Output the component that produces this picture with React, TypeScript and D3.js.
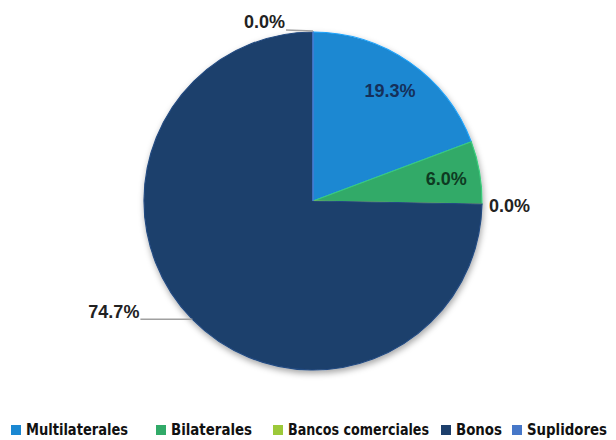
import React from "react";
import * as d3 from "d3";

const categories = ["Multilaterales", "Bilaterales", "Bancos comerciales", "Bonos", "Suplidores"];
const values = [19.3, 6.0, 0.0, 74.7, 0.0];
const labels = ["19.3%", "6.0%", "0.0%", "74.7%", "0.0%"];
const colors = ["#1a88d2", "#31aa68", "#9cc93a", "#1d3f6c", "#4677c8"];
const labelColors = ["#15305a", "#0e3a22", "#222222", "#222222", "#222222"];

const W = 616;
const H = 440;
const cx = 313;
const cy = 201;
const R = 169;

export default function App() {
  const pie = d3.pie<number>().sort(null).value((d) => d);
  const arcs = pie(values);
  const arcGen = d3.arc<d3.PieArcDatum<number>>().innerRadius(0).outerRadius(R);

  const pt = (angle: number, r: number) => [Math.sin(angle) * r, -Math.cos(angle) * r];

  // legend layout
  const legendSquareX = [11, 156, 273, 441, 512];
  const legendTextLen = [102, 81, 141, 46, 80];

  return (
    <svg width={W} height={H} style={{ position: "absolute", left: 0, top: 0, fontFamily: "'Liberation Sans', Arial, sans-serif" }}>
      <defs>
        <filter id="shadow" x="-20%" y="-20%" width="140%" height="140%">
          <feDropShadow dx="1" dy="3" stdDeviation="3" floodColor="#000" floodOpacity="0.35" />
        </filter>
      </defs>
      <rect width={W} height={H} fill="#ffffff" />
      <g transform={`translate(${cx},${cy})`}>
        <g filter="url(#shadow)">
          {arcs.map((a, i) => (
            <path key={i} d={arcGen(a) || ""} fill={colors[i]} stroke={d3.color(colors[i])!.brighter(0.5).toString()} strokeWidth={1.2} />
          ))}
        </g>
        {arcs.map((a, i) => {
          const mid = (a.startAngle + a.endAngle) / 2;
          if (values[i] >= 5) {
            if (i === 3) {
              const [x0, y0] = pt(mid, R);
              const xEnd = x0 - 52;
              return (
                <g key={i}>
                  <line x1={x0} y1={y0} x2={xEnd} y2={y0} stroke="#a0a0a0" strokeWidth={1.5} />
                  <text x={xEnd - 1} y={y0 - 1} textAnchor="end" fontSize={18} fontWeight="bold" fill={labelColors[i]}>
                    {labels[i]}
                  </text>
                </g>
              );
            }
            const [x, y] = pt(mid, R * 0.8);
            return (
              <text key={i} x={x} y={y} dy="0.4em" textAnchor="middle" fontSize={18} fontWeight="bold" fill={labelColors[i]}>
                {labels[i]}
              </text>
            );
          }
          const [x0, y0] = pt(mid, R);
          if (Math.abs(Math.sin(mid)) < 0.5) {
            const xEnd = x0 - 27;
            return (
              <g key={i}>
                <line x1={x0} y1={y0 - 1} x2={xEnd} y2={y0 - 2} stroke="#a0a0a0" strokeWidth={1.5} />
                <text x={xEnd - 1} y={y0 - 4} textAnchor="end" fontSize={18} fontWeight="bold" fill={labelColors[i]}>
                  {labels[i]}
                </text>
              </g>
            );
          }
          return (
            <text key={i} x={x0 + 7} y={y0 + 8} textAnchor="start" fontSize={18} fontWeight="bold" fill={labelColors[i]}>
              {labels[i]}
            </text>
          );
        })}
      </g>
      <g>
        {categories.map((c, i) => (
          <g key={c}>
            <rect x={legendSquareX[i]} y={425} width={10} height={10} fill={colors[i]} />
            <text
              x={legendSquareX[i] + 15}
              y={435}
              fontSize={16}
              fontWeight="bold"
              fill="#111"
              textLength={legendTextLen[i]}
              lengthAdjust="spacingAndGlyphs"
              style={{ fontFamily: "'Liberation Sans Narrow', 'DejaVu Sans Condensed', sans-serif" }}
            >
              {c}
            </text>
          </g>
        ))}
      </g>
    </svg>
  );
}
